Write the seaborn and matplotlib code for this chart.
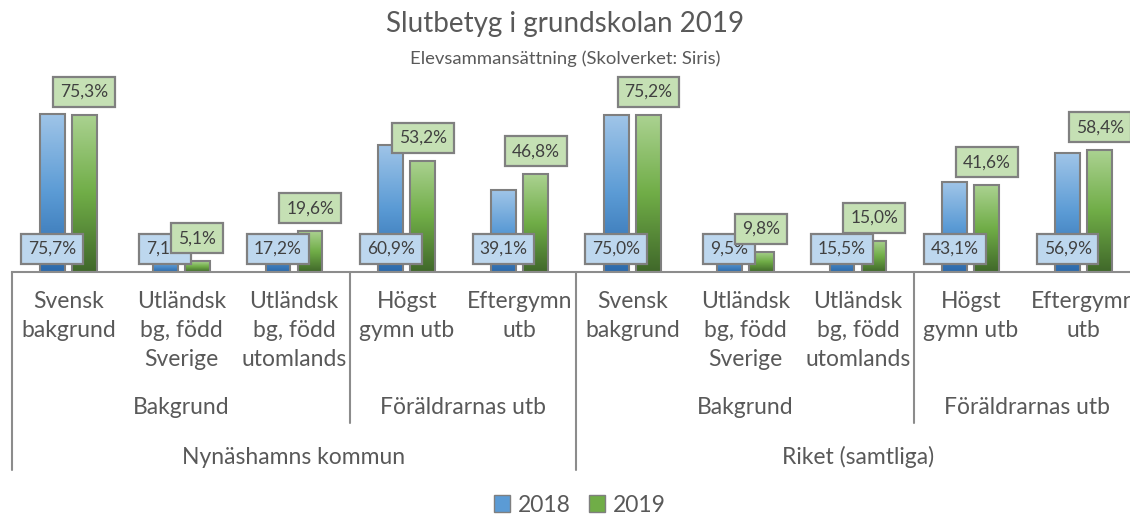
import numpy as np
import pandas as pd
import matplotlib.pyplot as plt
import matplotlib.transforms as mtransforms
from matplotlib.colors import LinearSegmentedColormap
from matplotlib.patches import Patch
import seaborn as sns

# data
regions = ["Nynäshamns kommun", "Riket (samtliga)"]
groups = ["Bakgrund", "Föräldrarnas utb"]
group_sizes = [3, 2]
categories = ["Svensk\nbakgrund", "Utländsk\nbg, född\nSverige", "Utländsk\nbg, född\nutomlands",
              "Högst\ngymn utb", "Eftergymn\nutb"]
years = ["2018", "2019"]
values_2018 = [75.7, 7.1, 17.2, 60.9, 39.1, 75.0, 9.5, 15.5, 43.1, 56.9]
values_2019 = [75.3, 5.1, 19.6, 53.2, 46.8, 75.2, 9.8, 15.0, 41.6, 58.4]

keys = [f"{r}|{c}" for r in regions for c in categories]
df = pd.DataFrame({
    "key": keys * 2,
    "year": ["2018"] * len(keys) + ["2019"] * len(keys),
    "value": values_2018 + values_2019,
})

sns.set_style("white")
plt.rcParams["font.family"] = ["Lato", "DejaVu Sans"]

W, H = 1130, 514
fig = plt.figure(figsize=(W / 100, H / 100), dpi=100)
# plot area in pixels: x 12..1140 (runs past the right edge like the original), baseline at y=272
ax = fig.add_axes([12 / W, 1 - 272 / H, 1128 / W, (272 - 105) / H])

blue = ["#2c6aab", "#5b9bd5", "#a0c5e8"]
green = ["#40682a", "#70ad47", "#abd291"]
gray = "#8c8c8c"
text_col = "#595959"

sns.barplot(data=df, x="key", y="value", hue="year", order=keys, hue_order=years,
            palette=[blue[1], green[1]], width=0.57, gap=0.23, saturation=1,
            edgecolor="#7f7f7f", linewidth=1.5, legend=False, ax=ax)

# vertical gradient fill in every bar, like the Excel preset
grad = np.linspace(1, 0, 256).reshape(-1, 1)
for cont, cols in zip(ax.containers, [blue, green]):
    cmap = LinearSegmentedColormap.from_list("g", cols)
    for bar in cont:
        bb = bar.get_bbox()
        im = ax.imshow(grad, extent=[bb.x0, bb.x1, bb.y0, bb.y1], origin="upper",
                       aspect="auto", cmap=cmap, vmin=0, vmax=1, zorder=bar.get_zorder() - 0.01)
        im.set_clip_path(bar)
        bar.set_facecolor("none")

ax.set_xlim(-0.5, len(keys) - 0.5)
ax.set_ylim(0, 80)
ax.set_xlabel("")
ax.set_ylabel("")
ax.set_xticks([])
ax.set_yticks([])
for s in ["top", "left", "right"]:
    ax.spines[s].set_visible(False)
ax.spines["bottom"].set_color(gray)
ax.spines["bottom"].set_linewidth(1.5)

# data labels: 2018 at the base, 2019 above the bar
def fmt(v):
    return f"{v:.1f}".replace(".", ",") + "%"

for cont, fc, z, at_base in [(ax.containers[0], "#bdd7ee", 5, True), (ax.containers[1], "#c5e0b4", 6, False)]:
    for bar, v in zip(cont, cont.datavalues):
        x = bar.get_x() + bar.get_width() / 2
        y = 0 if at_base else bar.get_height()
        ax.annotate(fmt(v), xy=(x, y), xytext=(0, 16.5), textcoords="offset points",
                    ha="center", va="center", fontsize=12.5, color="#404040", zorder=z,
                    annotation_clip=False,
                    bbox=dict(boxstyle="square,pad=0.4", fc=fc, ec="#808080", lw=1.6))

# multi-level category axis
trans = mtransforms.blended_transform_factory(ax.transData, fig.transFigure)
def fy(px):
    return 1 - px / H

for i, k in enumerate(keys):
    ax.text(i, fy(291), k.split("|")[1], transform=trans, ha="center", va="top",
            fontsize=16.5, color=text_col, linespacing=1.48, clip_on=False)

n = len(categories)
for r_i, region in enumerate(regions):
    start = r_i * n
    ax.text(start + (n - 1) / 2, fy(457), region, transform=trans, ha="center", va="center",
            fontsize=16.5, color=text_col, clip_on=False)
    ax.plot([start - 0.5, start - 0.5], [fy(272), fy(470)], transform=trans,
            color=gray, lw=1.5, clip_on=False)
    pos = start
    for g_i, (g, size) in enumerate(zip(groups, group_sizes)):
        ax.text(pos + (size - 1) / 2, fy(408), g, transform=trans, ha="center", va="center",
                fontsize=16.5, color=text_col, clip_on=False)
        if g_i > 0:
            ax.plot([pos - 0.5, pos - 0.5], [fy(272), fy(423)], transform=trans,
                    color=gray, lw=1.5, clip_on=False)
        pos += size
ax.plot([len(keys) - 0.5] * 2, [fy(272), fy(470)], transform=trans, color=gray, lw=1.5, clip_on=False)

fig.text(0.5, fy(24), "Slutbetyg i grundskolan 2019", ha="center", va="center",
         fontsize=20, color=text_col)
fig.text(0.5, fy(59), "Elevsammansättning (Skolverket: Siris)", ha="center", va="center",
         fontsize=13.3, color=text_col)

handles = [Patch(facecolor=blue[1], edgecolor="#7f7f7f", lw=1),
           Patch(facecolor=green[1], edgecolor="#7f7f7f", lw=1)]
fig.legend(handles, years, loc="center", bbox_to_anchor=(580 / W, fy(505)), ncol=2, frameon=False,
           fontsize=16.5, labelcolor=text_col, handlelength=0.7, handleheight=0.7,
           handletextpad=0.35, columnspacing=0.8)

fig.savefig("out.png", dpi=100)
